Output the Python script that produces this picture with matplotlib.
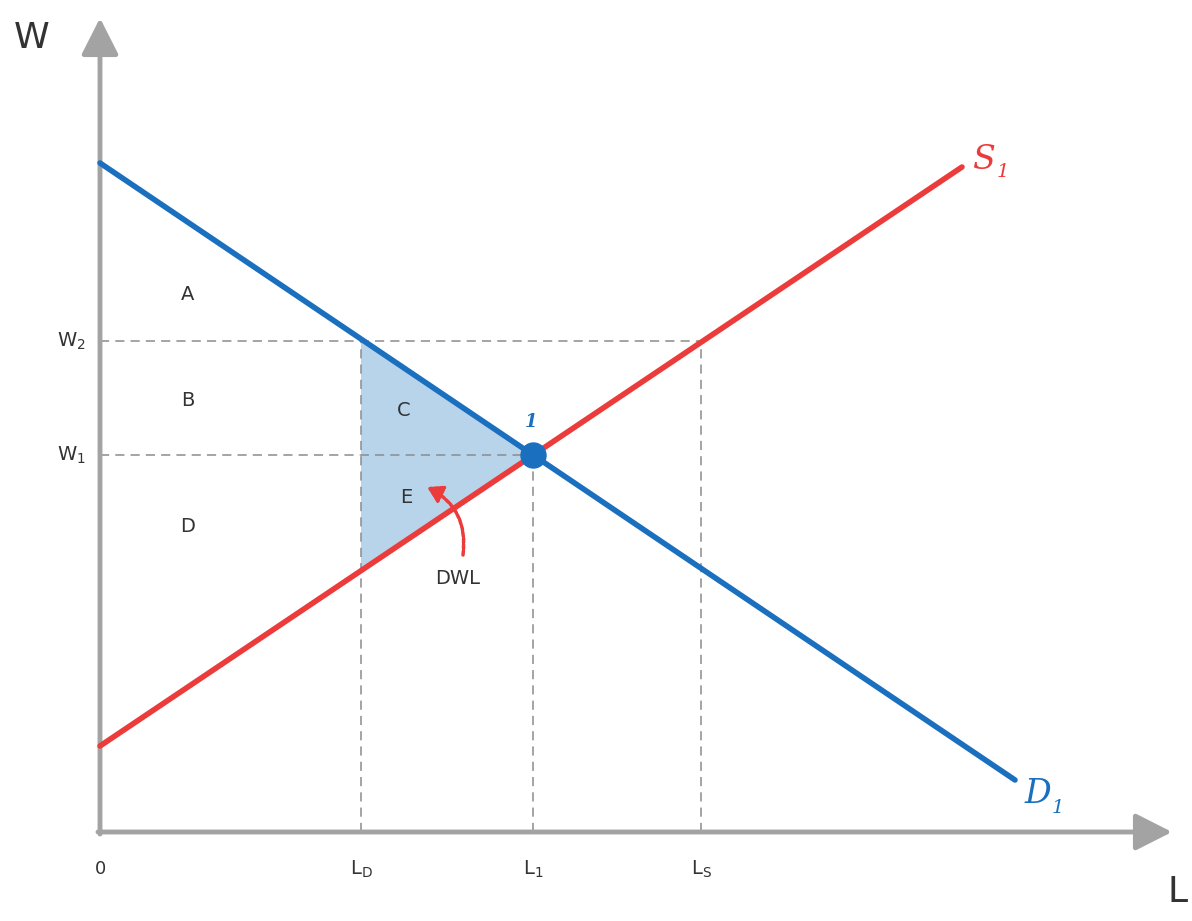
import numpy as np
import matplotlib.pyplot as plt
from matplotlib.patches import Polygon

# curves (labour quantity, wage)
demand_L = [0, 915]
demand_W = [669, 52]
supply_L = [0, 862]
supply_W = [86, 665]

L_D, L_S = 261, 601
W_2 = 491

area_labels = ['A', 'B', 'D', 'C', 'E']
area_pos = [(88, 538), (88, 432), (88, 305), (304, 421), (306, 335)]

blue = '#1a6fbf'
red = '#ec3b3b'
grey = '#a3a3a3'
dash = '#8c8c8c'
txt = '#333333'

# equilibrium from the two straight lines
d_slope = (demand_W[1] - demand_W[0]) / (demand_L[1] - demand_L[0])
s_slope = (supply_W[1] - supply_W[0]) / (supply_L[1] - supply_L[0])
L_1 = (demand_W[0] - supply_W[0]) / (s_slope - d_slope)
W_1 = demand_W[0] + d_slope * L_1
S_at_LD = supply_W[0] + s_slope * L_D

fig = plt.figure(figsize=(11.92, 9.21), dpi=100)
ax = fig.add_axes([0, 0, 1, 1])
ax.set_xlim(-100, 1092)
ax.set_ylim(-89, 832)
ax.axis('off')

# axes with arrows
arr = dict(arrowstyle='-|>,head_length=0.75,head_width=0.38', lw=3.5, color=grey,
           shrinkA=0, shrinkB=0, mutation_scale=30)
ax.annotate('', xy=(0, 814), xytext=(0, -2), arrowprops=arr)
ax.annotate('', xy=(1072, 0), xytext=(-2, 0), arrowprops=arr)

# dead weight loss triangle
ax.add_patch(Polygon([(L_D, W_2), (L_1, W_1), (L_D, S_at_LD)], closed=True,
                     facecolor='#b8d4ea', edgecolor='none', zorder=1))

# dashed guides
dkw = dict(color=dash, lw=1.1, ls=(0, (6, 4)), zorder=2)
ax.plot([0, L_S], [W_2, W_2], **dkw)
ax.plot([0, L_1], [W_1, W_1], **dkw)
ax.plot([L_D, L_D], [0, W_2], **dkw)
ax.plot([L_1, L_1], [0, W_1], **dkw)
ax.plot([L_S, L_S], [0, W_2], **dkw)

ax.plot(demand_L, demand_W, color=blue, lw=4, solid_capstyle='round', zorder=3)
ax.plot(supply_L, supply_W, color=red, lw=4, solid_capstyle='round', zorder=3)
ax.plot([L_1], [W_1], 'o', color=blue, ms=18, zorder=4)

# labels
ax.text(-68, 794, 'W', fontsize=26, color=txt, ha='center', va='center')
ax.text(1078, -60, 'L', fontsize=26, color=txt, ha='center', va='center')
ax.text(0, -37, '0', fontsize=13, color=txt, ha='center', va='center')
ax.text(-14, W_2, r'W$_\mathrm{2}$', fontsize=14, color=txt, ha='right', va='center')
ax.text(-14, W_1, r'W$_\mathrm{1}$', fontsize=14, color=txt, ha='right', va='center')
for x, lab in zip([L_D, L_1, L_S], [r'L$_\mathrm{D}$', r'L$_\mathrm{1}$', r'L$_\mathrm{S}$']):
    ax.text(x, -37, lab, fontsize=14, color=txt, ha='center', va='center')
for lab, (x, y) in zip(area_labels, area_pos):
    ax.text(x, y, lab, fontsize=14, color=txt, ha='center', va='center')
ax.text(358, 254, 'DWL', fontsize=14, color=txt, ha='center', va='center')
ax.text(L_1 - 2, W_1 + 33, '1', fontsize=13, color=blue, style='italic',
        fontweight='bold', family='DejaVu Serif', ha='center', va='center')

ax.text(872, 672, 'S', fontsize=24, color=red, style='italic',
        family='DejaVu Serif', ha='left', va='center')
ax.text(897, 660, '1', fontsize=14, color=red, style='italic',
        family='DejaVu Serif', ha='left', va='center')
ax.text(925, 38, 'D', fontsize=24, color=blue, style='italic',
        family='DejaVu Serif', ha='left', va='center')
ax.text(952, 24, '1', fontsize=14, color=blue, style='italic',
        family='DejaVu Serif', ha='left', va='center')

# curved arrow pointing at the triangle
ax.annotate('', xy=(327, 345), xytext=(363, 277),
            arrowprops=dict(arrowstyle='-|>,head_length=0.5,head_width=0.3',
                            color=red, lw=2.5, ls=(0, (1.2, 0.6)),
                            connectionstyle='arc3,rad=0.35', mutation_scale=18,
                            shrinkA=0, shrinkB=0))

fig.savefig('out.png', dpi=100)
